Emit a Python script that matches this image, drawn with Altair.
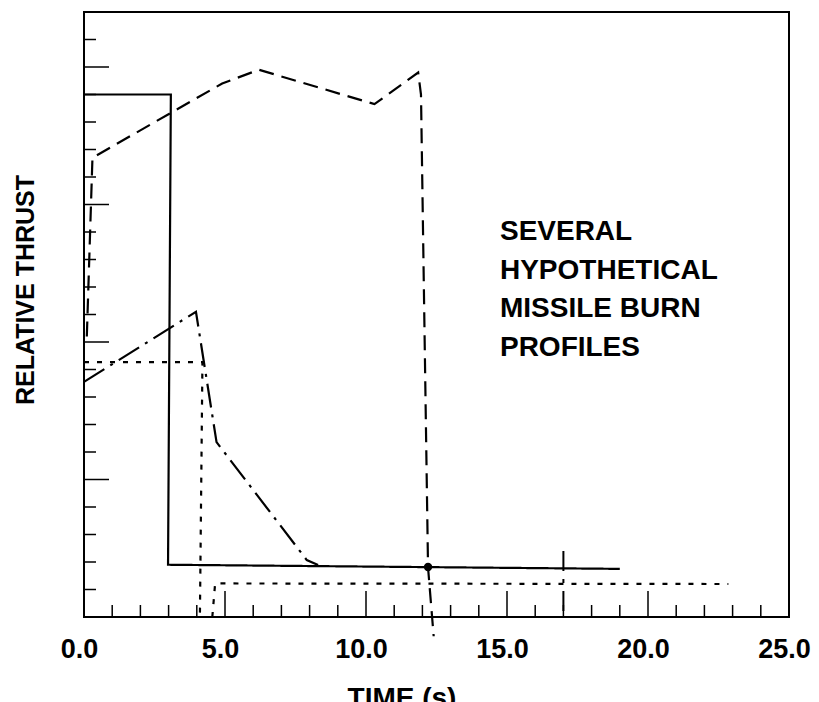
import altair as alt
import pandas as pd

# ---- data (time in s, relative thrust in axis units) ----
solid_t = [0.0, 3.08, 2.98, 19.0]
solid_v = [19.0, 19.0, 1.9, 1.75]

dashed_t = [0.1, 0.3, 4.9, 6.2, 10.3, 11.85, 11.95, 12.2, 12.4]
dashed_v = [10.2, 16.7, 19.4, 19.9, 18.65, 19.8, 19.0, 1.8, -0.7]

dashdot_t = [0.0, 3.97, 4.7, 7.9, 8.3]
dashdot_v = [8.55, 11.1, 6.36, 2.07, 1.89]

dotted_a_t = [0.0, 4.2, 4.11]
dotted_a_v = [9.27, 9.27, 0.0]
dotted_b_t = [4.55, 4.65, 22.85]
dotted_b_v = [0.0, 1.22, 1.2]

burnout_t = [12.2]
burnout_v = [1.82]

cutoff_t = [17.0]
cutoff_top = [2.4]
cutoff_bottom = [0.0]

x_label_values = [0, 5, 10, 15, 20, 25]
x_major = [5, 10, 15, 20]
x_minor = [1, 2, 3, 4, 6, 7, 8, 9, 11, 12, 13, 14, 16, 17, 18, 19, 21, 22, 23, 24]
y_major = [5, 10, 15, 20]
y_minor = [1, 2, 3, 4, 6, 7, 8, 9, 11, 12, 13, 14, 16, 17, 18, 19, 21]

note_text = "SEVERAL\nHYPOTHETICAL\nMISSILE BURN\nPROFILES"
note_t = [14.75]
note_v = [13.71]
y_title = "RELATIVE THRUST"
x_title = "TIME (s)"

series_names = ["solid", "dashed", "dashdot", "dotted"]

# ---- build table ----
rows = []
def add(series, seg, ts, vs):
    for i, (t, v) in enumerate(zip(ts, vs)):
        rows.append({"series": series, "seg": seg, "order": i, "t": t, "v": v})

add("solid", "s1", solid_t, solid_v)
add("dashed", "d1", dashed_t, dashed_v)
add("dashdot", "dd1", dashdot_t, dashdot_v)
add("dotted", "o1", dotted_a_t, dotted_a_v)
add("dotted", "o2", dotted_b_t, dotted_b_v)
df = pd.DataFrame(rows)

W, H = 705, 605
FONT = "Liberation Sans"

xs = alt.Scale(domain=[0, 25], nice=False, zero=False)
ys = alt.Scale(domain=[0, 22], nice=False, zero=False)
xaxis = alt.Axis(values=x_label_values, format=".1f", title=None, ticks=False,
                 tickSize=0, domain=False, grid=False, labelFontSize=27,
                 labelFont=FONT, labelFontWeight="bold", labelColor="black",
                 labelPadding=19, labelOffset=-5, labelFlush=False,
                 labelOverlap=False, labelBound=False)

def X(field="t"):
    return alt.X(f"{field}:Q", scale=xs, axis=xaxis)

def Y(field="v"):
    return alt.Y(f"{field}:Q", scale=ys, axis=None)

lines = alt.Chart(df).mark_line(color="black", strokeWidth=2.2, strokeCap="butt").encode(
    x=X(), y=Y(),
    strokeDash=alt.StrokeDash("series:N",
                              scale=alt.Scale(domain=series_names,
                                              range=[[1, 0], [15, 8], [24, 7, 3, 7], [5, 8]]),
                              legend=None),
    detail="seg:N",
    order="order:Q",
)

dot = alt.Chart(pd.DataFrame({"t": burnout_t, "v": burnout_v})).mark_circle(
    color="black", size=70, opacity=1).encode(x=X(), y=Y())

cutoff = alt.Chart(pd.DataFrame({"t": cutoff_t, "v": cutoff_top, "v2": cutoff_bottom})).mark_rule(
    color="black", strokeWidth=2, strokeDash=[20, 8, 4, 8]).encode(
    x=X(), y=Y(), y2="v2:Q")

xt_minor = alt.Chart(pd.DataFrame({"t": x_minor})).mark_rule(color="black", strokeWidth=1.5).encode(
    x=X(), y=alt.value(H), y2=alt.value(H - 12))
xt_major = alt.Chart(pd.DataFrame({"t": x_major})).mark_rule(color="black", strokeWidth=1.5).encode(
    x=X(), y=alt.value(H), y2=alt.value(H - 26))
yt_minor = alt.Chart(pd.DataFrame({"v": y_minor})).mark_rule(color="black", strokeWidth=1.5).encode(
    y=Y(), x=alt.value(0), x2=alt.value(12))
yt_major = alt.Chart(pd.DataFrame({"v": y_major})).mark_rule(color="black", strokeWidth=1.5).encode(
    y=Y(), x=alt.value(0), x2=alt.value(25))

note = alt.Chart(pd.DataFrame({"t": note_t, "v": note_v, "label": [note_text]})).mark_text(
    align="left", baseline="alphabetic", font=FONT, fontSize=28, fontWeight="bold",
    lineBreak="\n", lineHeight=38.7, color="black").encode(x=X(), y=Y(), text="label:N")

ytitle = alt.Chart(pd.DataFrame({"label": [y_title]})).mark_text(
    angle=270, align="center", baseline="middle", font=FONT, fontSize=25,
    fontWeight="bold", color="black").encode(
    x=alt.value(-58), y=alt.value(278), text="label:N")

xtitle = alt.Chart(pd.DataFrame({"label": [x_title]})).mark_text(
    align="center", baseline="alphabetic", font=FONT, fontSize=28,
    fontWeight="bold", color="black").encode(
    x=alt.value(318), y=alt.value(695), text="label:N")

chart = alt.layer(
    xt_minor, xt_major, yt_minor, yt_major, lines, cutoff, dot, note, ytitle, xtitle
).properties(
    width=W, height=H,
    padding={"left": 76, "top": 4, "right": 22, "bottom": 88},
    autosize=alt.AutoSizeParams(type="none"),
    background="white",
).configure_view(stroke="black", strokeWidth=2)

chart.save("out.html", embed_options={"renderer": "svg", "actions": False})
